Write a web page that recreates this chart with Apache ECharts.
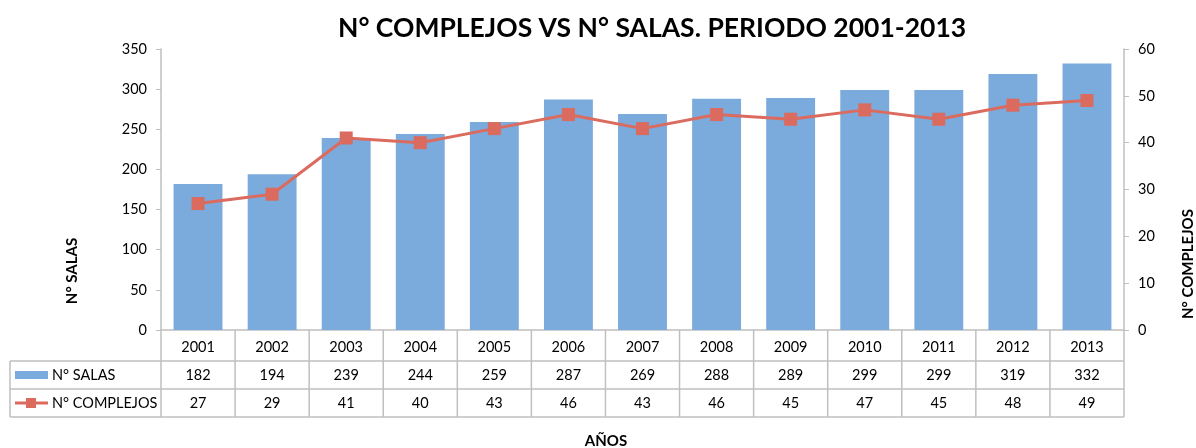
<!DOCTYPE html>
<html style="height: 100%">
<head>
    <meta charset="utf-8">
    <title>N° complejos vs N° salas</title>
</head>
<body style="height: 100%; margin: 0">
<div id="container" style="width: 1196px; height: 448px"></div>

<script src="https://cdn.jsdelivr.net/npm/echarts@6/dist/echarts.min.js"></script>
<script type="text/javascript">
var years = ['2001', '2002', '2003', '2004', '2005', '2006', '2007', '2008', '2009', '2010', '2011', '2012', '2013'];
var salas = [182, 194, 239, 244, 259, 287, 269, 288, 289, 299, 299, 319, 332];
var complejos = [27, 29, 41, 40, 43, 46, 43, 46, 45, 47, 45, 48, 49];

var FONT = 'Lato';
var BLUE = '#7baadc';
var RED = '#db6b5e';
var GRAYLINE = '#bfbfbf';

var gridLeft = 161, gridRight = 72, gridTop = 49, gridBottom = 118;
var W = 1196, H = 448;

var myChart = echarts.init(document.getElementById('container'));

option = {
    backgroundColor: '#ffffff',
    animation: false,
    title: {
        text: 'N° COMPLEJOS VS N° SALAS. PERIODO 2001-2013',
        left: 333,
        top: 10,
        textStyle: { fontFamily: FONT, fontSize: 26.5, fontWeight: 'bold', color: '#000' }
    },
    grid: { left: gridLeft, right: gridRight, top: gridTop, bottom: gridBottom, outerBoundsMode: 'none' },
    xAxis: {
        type: 'category',
        data: years,
        axisLine: { lineStyle: { color: GRAYLINE, width: 1.5 } },
        axisTick: { show: false },
        axisLabel: { color: '#000', fontFamily: FONT, fontSize: 14.5, margin: 10 }
    },
    yAxis: [
        {
            type: 'value',
            min: 0, max: 350, interval: 50,
            splitLine: { show: false },
            axisLine: { show: true, lineStyle: { color: GRAYLINE, width: 1.5 } },
            axisTick: { show: true, length: 5, lineStyle: { color: GRAYLINE } },
            axisLabel: { color: '#000', fontFamily: FONT, fontSize: 14.5, margin: 14 }
        },
        {
            type: 'value',
            min: 0, max: 60, interval: 10,
            splitLine: { show: false },
            axisLine: { show: true, lineStyle: { color: GRAYLINE, width: 1.5 } },
            axisTick: { show: true, length: 5, lineStyle: { color: GRAYLINE } },
            axisLabel: { color: '#000', fontFamily: FONT, fontSize: 14.5, margin: 14 }
        }
    ],
    series: [
        {
            name: 'N° SALAS',
            type: 'bar',
            data: salas,
            barCategoryGap: '34%',
            itemStyle: { color: BLUE }
        },
        {
            name: 'N° COMPLEJOS',
            type: 'line',
            yAxisIndex: 1,
            data: complejos,
            symbol: 'rect',
            symbolSize: 13,
            lineStyle: { color: RED, width: 3 },
            itemStyle: { color: RED }
        }
    ]
};
myChart.setOption(option);

// data table under the x axis, placed from the axis pixel positions
var axisY = H - gridBottom;
var rowTops = [axisY, axisY + 31, axisY + 59, axisY + 87];
var tableLeft = 10;
var step = myChart.convertToPixel({ xAxisIndex: 0 }, 1) - myChart.convertToPixel({ xAxisIndex: 0 }, 0);
var lastX = myChart.convertToPixel({ xAxisIndex: 0 }, years.length - 1) + step / 2;
var elements = [];
var lineStyle = { stroke: GRAYLINE, lineWidth: 1.5 };

for (var r = 1; r < rowTops.length; r++) {
    elements.push({ type: 'line', shape: { x1: tableLeft, y1: rowTops[r], x2: lastX, y2: rowTops[r] }, style: lineStyle });
}
elements.push({ type: 'line', shape: { x1: tableLeft, y1: rowTops[1], x2: tableLeft, y2: rowTops[3] }, style: lineStyle });
elements.push({ type: 'line', shape: { x1: lastX, y1: rowTops[0], x2: lastX, y2: rowTops[3] }, style: lineStyle });
for (var i = 0; i < years.length; i++) {
    var cx = myChart.convertToPixel({ xAxisIndex: 0 }, i);
    var bx = cx - step / 2;
    elements.push({ type: 'line', shape: { x1: bx, y1: rowTops[0], x2: bx, y2: rowTops[3] }, style: lineStyle });
    elements.push({
        type: 'text', x: cx, y: (rowTops[1] + rowTops[2]) / 2,
        style: { text: String(salas[i]), fontFamily: FONT, fontSize: 14.5, fill: '#000', align: 'center', verticalAlign: 'middle' }
    });
    elements.push({
        type: 'text', x: cx, y: (rowTops[2] + rowTops[3]) / 2,
        style: { text: String(complejos[i]), fontFamily: FONT, fontSize: 14.5, fill: '#000', align: 'center', verticalAlign: 'middle' }
    });
}

// legend keys inside the table
var r1 = (rowTops[1] + rowTops[2]) / 2, r2 = (rowTops[2] + rowTops[3]) / 2;
elements.push({ type: 'rect', shape: { x: 15, y: r1 - 4, width: 33, height: 8 }, style: { fill: BLUE } });
elements.push({ type: 'text', x: 52, y: r1, style: { text: 'N° SALAS', fontFamily: FONT, fontSize: 14.5, fill: '#000', verticalAlign: 'middle' } });
elements.push({ type: 'line', shape: { x1: 15, y1: r2, x2: 48, y2: r2 }, style: { stroke: RED, lineWidth: 3 } });
elements.push({ type: 'rect', shape: { x: 26, y: r2 - 5, width: 10, height: 10 }, style: { fill: RED } });
elements.push({ type: 'text', x: 52, y: r2, style: { text: 'N° COMPLEJOS', fontFamily: FONT, fontSize: 14.5, fill: '#000', verticalAlign: 'middle' } });

// axis titles
var nameStyle = { fontFamily: FONT, fontSize: 15, fontWeight: 'bold', fill: '#000', align: 'center', verticalAlign: 'middle' };
elements.push({ type: 'text', x: 72, y: 271, rotation: Math.PI / 2, style: echarts.util.extend({ text: 'N° SALAS' }, nameStyle) });
elements.push({ type: 'text', x: 1188, y: 264, rotation: Math.PI / 2, style: echarts.util.extend({ text: 'N° COMPLEJOS' }, nameStyle) });
elements.push({ type: 'text', x: 606, y: 441, style: echarts.util.extend({ text: 'AÑOS' }, nameStyle) });

myChart.setOption({ graphic: elements });
</script>
</body>
</html>
